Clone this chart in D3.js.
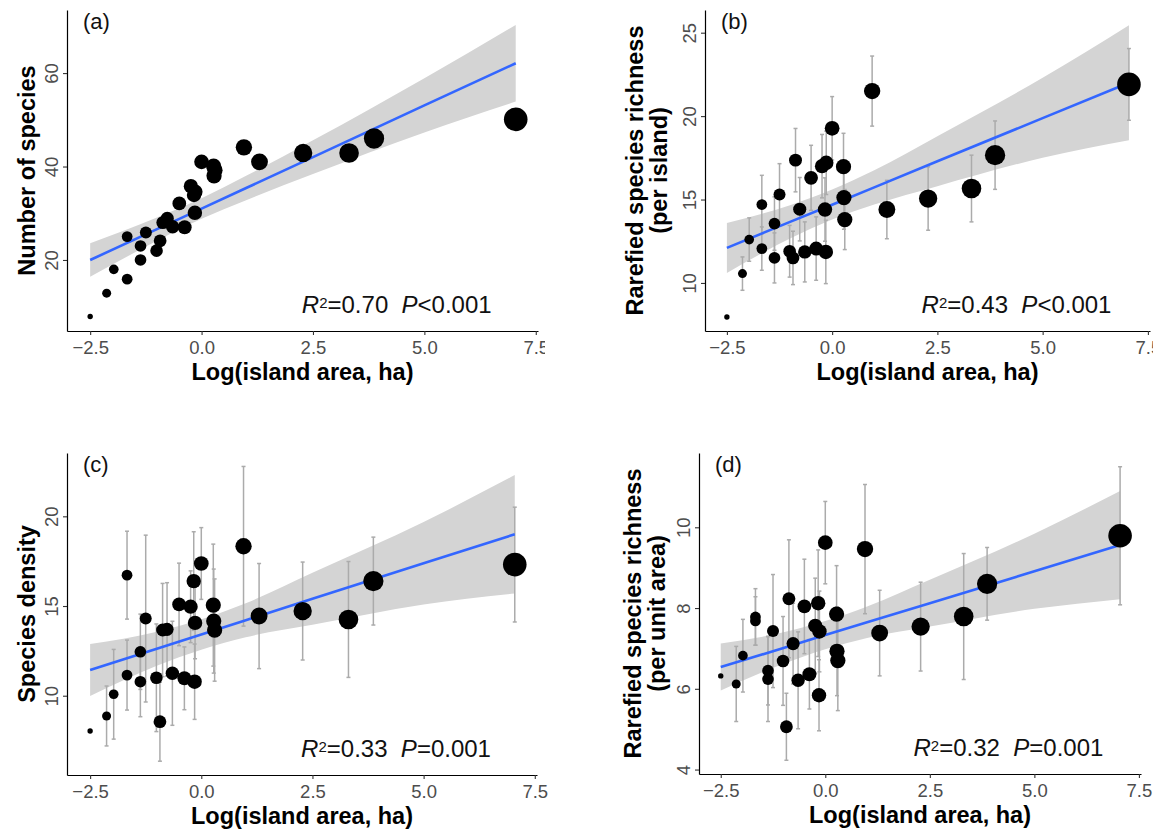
<!DOCTYPE html>
<html>
<head>
<meta charset="utf-8">
<script src="https://cdn.jsdelivr.net/npm/d3@7"></script>
<style>
  body { margin: 0; background: #fff; }
  text { font-family: "Liberation Sans", Arial, sans-serif; }
</style>
</head>
<body>
<svg id="fig" width="1161" height="832"></svg>
<script>
// Log(island area, ha) for each island
const islandX = [-2.50, -2.13, -1.97, -1.67, -1.67, -1.37, -1.37, -1.25, -1.01, -0.93,
                 -0.87, -0.77, -0.65, -0.50, -0.38, -0.24, -0.17, -0.15, -0.14, 0.00,
                  0.27,  0.28,  0.30,  0.95,  1.30,  2.28,  3.31,  3.87,  7.05];

// (a) number of species
const speciesA = [7.9, 12.9, 18.0, 25.0, 15.9, 23.0, 20.0, 25.9, 22.0, 24.1,
                  28.0, 28.9, 27.1, 32.1, 27.0, 35.8, 33.9, 30.1, 34.6, 41.0,
                  40.1, 38.0, 39.2, 44.1, 41.0, 42.9, 42.9, 46.0, 50.1];

// (b) rarefied richness per island, +/- error
const richB   = [7.96, 10.56, 12.6, 14.7, 12.06, 13.56, 11.5, 15.3, 11.9, 11.5,
                 17.36, 14.42, 11.86, 16.3, 12.06, 17.0, 14.4, 11.86, 17.2, 19.27,
                 16.97, 15.12, 13.8, 21.5, 14.4, 15.06, 15.66, 17.66, 21.9];
const richBse = [0, 1.0, 1.3, 1.75, 1.3, 1.6, 1.5, 1.85, 1.55, 1.6,
                 1.9, 1.9, 1.8, 1.95, 1.9, 1.9, 1.9, 1.9, 1.9, 1.9,
                 2.0, 1.9, 1.8, 2.1, 1.75, 1.9, 2.0, 2.05, 2.15];

// (c) species density, +/- error
const densC   = [8.03, 8.87, 10.08, 16.72, 11.15, 12.45, 10.78, 14.3, 11.0, 8.55,
                 13.66, 13.7, 11.25, 15.09, 10.97, 14.96, 16.39, 10.78, 14.06, 17.37,
                 15.05, 14.16, 13.66, 18.33, 14.44, 14.72, 14.25, 16.39, 17.31];
const densCse = [0, 1.67, 2.5, 2.45, 1.95, 2.1, 1.95, 4.65, 3.0, 2.2,
                 2.6, 2.6, 2.9, 2.3, 1.75, 2.0, 2.75, 2.1, 2.0, 2.0,
                 3.4, 2.9, 2.85, 4.45, 2.93, 2.73, 3.23, 2.45, 3.2];

// (d) rarefied richness per unit area, +/- error
const richD   = [6.32, 6.12, 6.82, 7.78, 7.68, 6.45, 6.24, 7.43, 6.69, 5.06,
                 8.23, 7.12, 6.21, 8.04, 6.36, 7.56, 8.12, 5.84, 7.42, 9.62,
                 7.85, 6.93, 6.7, 9.46, 7.38, 7.54, 7.79, 8.6, 9.79];
const richDse = [0, 0.93, 0.9, 0.7, 0.6, 0.85, 1.05, 1.4, 1.1, 0.83,
                 1.46, 1.0, 1.2, 1.17, 0.86, 1.18, 1.32, 0.88, 1.0, 1.02,
                 1.2, 1.1, 1.24, 1.6, 1.06, 1.1, 1.56, 0.9, 1.71];

// fitted lines and 95% bands, read at these x
const fitX  = [-2.5, -1, 0, 1, 2.5, 5, 7.05];
const fitA  = [20.0, 26.6, 31.0, 35.4, 42.0, 53.1, 62.1];
const loA   = [16.4, 24.1, 28.8, 32.8, 38.4, 47.3, 53.9];
const hiA   = [23.6, 29.1, 33.2, 38.0, 45.6, 58.9, 70.3];
const fitB  = [12.1, 13.66, 14.69, 15.73, 17.29, 19.88, 22.0];
const loB   = [10.6, 12.66, 13.8, 14.7, 15.8, 17.5, 18.55];
const hiB   = [13.6, 14.66, 15.6, 16.75, 18.8, 22.3, 25.45];
const fitC  = [11.43, 12.62, 13.41, 14.21, 15.4, 17.38, 19.0];
const loC   = [9.98, 11.67, 12.56, 13.26, 13.95, 15.08, 15.7];
const hiC   = [12.88, 13.57, 14.26, 15.16, 16.85, 19.68, 22.3];
const fitD  = [6.54, 7.01, 7.33, 7.65, 8.12, 8.91, 9.56];
const loD   = [5.96, 6.62, 6.98, 7.26, 7.54, 7.98, 8.22];
const hiD   = [7.12, 7.40, 7.68, 8.04, 8.70, 9.84, 10.90];

const xTicks = [-2.5, 0, 2.5, 5, 7.5];
const yTicksA = [20, 40, 60];
const yTicksB = [10, 15, 20, 25];
const yTicksC = [10, 15, 20];
const yTicksD = [4, 6, 8, 10];

const r2Values = ["0.70", "0.43", "0.33", "0.32"];
const pValues = ["<0.001", "<0.001", "=0.001", "=0.001"];

const xDomain = [-3.02, 7.55];

const panels = [
  {label: "(a)", y: speciesA, se: null, fit: fitA, lo: loA, hi: hiA, ticks: yTicksA,
   yDomain: [4.8, 73.5], title: ["Number of species"],
   box: {l: 67, r: 538, t: 10, b: 331}, clip: 545, titleX: 27},
  {label: "(b)", y: richB, se: richBse, fit: fitB, lo: loB, hi: hiB, ticks: yTicksB,
   yDomain: [7.12, 26.36], title: ["Rarefied species richness", "(per island)"],
   box: {l: 705, r: 1150, t: 10, b: 331}, clip: 1153, titleX: 647},
  {label: "(c)", y: densC, se: densCse, fit: fitC, lo: loC, hi: hiC, ticks: yTicksC,
   yDomain: [5.58, 23.53], title: ["Species density"],
   box: {l: 67, r: 537, t: 453, b: 775}, clip: null, titleX: 27},
  {label: "(d)", y: richD, se: richDse, fit: fitD, lo: loD, hi: hiD, ticks: yTicksD,
   yDomain: [3.89, 11.84], title: ["Rarefied species richness", "(per unit area)"],
   box: {l: 699, r: 1141, t: 453, b: 774}, clip: null, titleX: 645}
];

const svg = d3.select("#fig");
svg.append("rect").attr("width", 1161).attr("height", 832).attr("fill", "#fff");

const xMin = d3.min(islandX);
const size = d3.scaleSqrt().domain([0, d3.max(islandX) - xMin]).range([2.7, 11.8]);

panels.forEach((p, k) => {
  const x = d3.scaleLinear(xDomain, [p.box.l, p.box.r]);
  const y = d3.scaleLinear(p.yDomain, [p.box.b, p.box.t]);

  const g = svg.append("g");
  if (p.clip) {
    const id = "clip" + k;
    svg.append("clipPath").attr("id", id)
      .append("rect").attr("x", p.box.l - 120).attr("y", 0)
      .attr("width", p.clip - (p.box.l - 120)).attr("height", 832);
    g.attr("clip-path", `url(#${id})`);
  }

  const band = fitX.map((v, i) => ({x: v, fit: p.fit[i], lo: p.lo[i], hi: p.hi[i]}));

  // confidence band
  g.append("path")
    .datum(band)
    .attr("fill", "#d4d4d4")
    .attr("d", d3.area()
      .x(d => x(d.x)).y0(d => y(d.lo)).y1(d => y(d.hi))
      .curve(d3.curveMonotoneX));

  const pts = islandX.map((v, i) => ({x: v, y: p.y[i], se: p.se ? p.se[i] : 0}));

  // error bars
  if (p.se) {
    const eb = g.append("g").attr("stroke", "#ababab").attr("stroke-width", 1.5).attr("fill", "none");
    pts.filter(d => d.se > 0).forEach(d => {
      const cx = x(d.x), y0 = y(d.y - d.se), y1 = y(d.y + d.se);
      eb.append("line").attr("x1", cx).attr("x2", cx).attr("y1", y0).attr("y2", y1);
      eb.append("line").attr("x1", cx - 2).attr("x2", cx + 2).attr("y1", y0).attr("y2", y0);
      eb.append("line").attr("x1", cx - 2).attr("x2", cx + 2).attr("y1", y1).attr("y2", y1);
    });
  }

  // fitted line
  g.append("path")
    .datum(band)
    .attr("fill", "none")
    .attr("stroke", "#3366FF")
    .attr("stroke-width", 2.6)
    .attr("d", d3.line().x(d => x(d.x)).y(d => y(d.fit)));

  // points
  g.append("g")
    .selectAll("circle")
    .data(pts)
    .join("circle")
      .attr("cx", d => x(d.x))
      .attr("cy", d => y(d.y))
      .attr("r", d => size(d.x - xMin))
      .attr("fill", "#000");

  // axes
  const gx = g.append("g")
    .attr("transform", `translate(0,${p.box.b})`)
    .call(d3.axisBottom(x).tickValues(xTicks).tickFormat(d3.format(".1f"))
      .tickSize(4).tickSizeOuter(0).tickPadding(6));
  const gy = g.append("g")
    .attr("transform", `translate(${p.box.l},0)`)
    .call(d3.axisLeft(y).tickValues(p.ticks).tickFormat(d3.format("d"))
      .tickSize(4).tickSizeOuter(0));
  [gx, gy].forEach(a => {
    a.select(".domain").attr("stroke", "#000").attr("stroke-width", 1.2);
    a.selectAll(".tick line").attr("stroke", "#333").attr("stroke-width", 1.1);
    a.selectAll(".tick text")
      .attr("fill", "#4d4d4d")
      .style("font-size", "18.5px")
      .style("font-family", "'Liberation Sans', Arial, sans-serif");
  });
  gy.selectAll(".tick text")
    .attr("transform", "rotate(-90)")
    .attr("text-anchor", "middle")
    .attr("x", 0)
    .attr("y", -15)
    .attr("dy", "0.35em");

  // x title
  g.append("text")
    .attr("x", (p.box.l + p.box.r) / 2)
    .attr("y", p.box.b + 49)
    .attr("text-anchor", "middle")
    .style("font-size", "23.5px")
    .style("font-weight", "bold")
    .text("Log(island area, ha)");

  // y title (one or two lines)
  const cy = (p.box.t + p.box.b) / 2;
  const n = p.title.length;
  p.title.forEach((t, i) => {
    const tx = p.titleX + (i - (n - 1) / 2) * 24;
    g.append("text")
      .attr("transform", `translate(${tx},${cy}) rotate(-90)`)
      .attr("text-anchor", "middle")
      .attr("dy", "0.35em")
      .style("font-size", "23.5px")
      .style("font-weight", "bold")
      .text(t);
  });

  // panel label
  g.append("text")
    .attr("x", p.box.l + 16)
    .attr("y", p.box.t + 19)
    .style("font-size", "22px")
    .attr("fill", "#111")
    .text(p.label);

  // statistics
  const st = g.append("text")
    .attr("x", x(4.38))
    .attr("y", p.box.b - 18)
    .attr("text-anchor", "middle")
    .attr("fill", "#111")
    .style("font-size", "24px")
    .style("white-space", "pre");
  st.append("tspan").style("font-style", "italic").text("R");
  st.append("tspan").attr("dy", -5).style("font-size", "15px").text("2");
  st.append("tspan").attr("dy", 5).text("=" + r2Values[k] + "  ");
  st.append("tspan").style("font-style", "italic").text("P");
  st.append("tspan").text(pValues[k]);
});
</script>
</body>
</html>
